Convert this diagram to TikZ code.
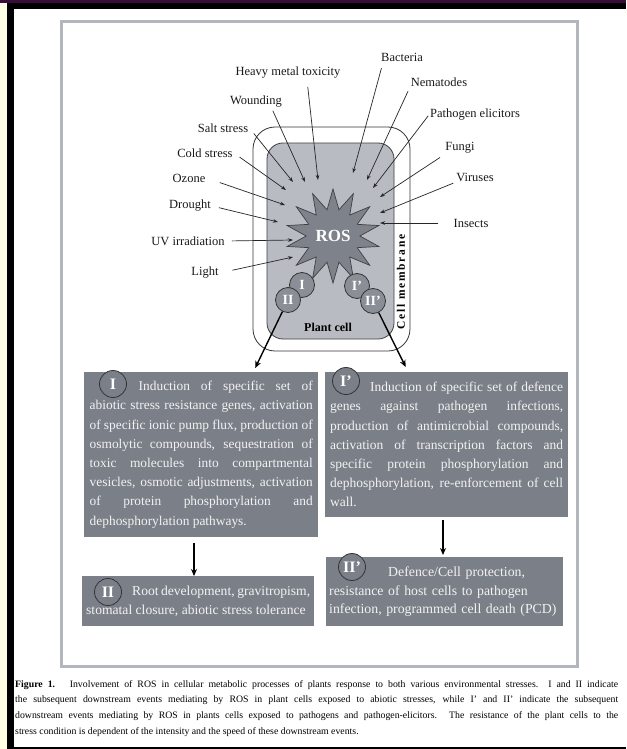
\documentclass[tikz,border=0pt]{standalone}
\usepackage{fontspec}
\setmainfont{Liberation Serif}
\usetikzlibrary{arrows.meta, shapes.geometric}

\definecolor{boxgrey}{HTML}{7B8088}
\definecolor{cellgrey}{HTML}{B8BBC2}
\definecolor{rosgrey}{HTML}{7E828A}
\definecolor{numgrey}{HTML}{8A8E96}
\definecolor{panelgrey}{HTML}{B3B6BC}
\definecolor{framepurple}{HTML}{3A0C3A}
\definecolor{frameyellow}{HTML}{FFFDE4}
\definecolor{boxtext}{HTML}{F2F2F2}

\hyphenpenalty=10000
\exhyphenpenalty=10000

\tikzset{
  stresslbl/.style={inner sep=1pt, font=\fontsize{12.5}{14}\selectfont, text=black!90},
  stressarrow/.style={-{Stealth[length=5pt,width=3.6pt]}, draw=black!85, line width=0.7pt},
  flowarrow/.style={-{Stealth[length=7pt,width=6pt]}, line width=1.4pt, black},
  textbox/.style={fill=boxgrey, text=boxtext, inner xsep=5pt, inner ysep=0pt, anchor=north west, align=justify},
  numcirc/.style={circle, draw=black!80, line width=0.8pt, fill=numgrey, text=white, inner sep=0pt, minimum size=25pt, font=\bfseries\fontsize{14}{14}\selectfont},
  labcirc/.style={numcirc, fill=boxgrey, minimum size=27pt, font=\bfseries\fontsize{16}{16}\selectfont},
}

\begin{document}
\begin{tikzpicture}[x=1pt, y=-1pt, >=Stealth]
    \useasboundingbox (0,0) rectangle (626,749);

    % 外框
    \fill[white] (0,0) rectangle (626,749);
    \fill[frameyellow] (0,0) rectangle (7,749);
    \fill[framepurple] (0,0) rectangle (626,3.5);
    \fill[black] (7,3.5) rectangle (626,9);
    \fill[black] (7,3.5) rectangle (13.5,749);
    \fill[black] (7,746.5) rectangle (626,749);
    \draw[panelgrey, line width=3pt] (61.5,21.5) rectangle (577.5,666.5);

    % 细胞膜与细胞
    \draw[black!80, line width=0.8pt, fill=white, rounded corners=22pt] (253,127) rectangle (410,351);
    \draw[black!75, line width=0.8pt, fill=cellgrey, rounded corners=16pt] (267,143) rectangle (394,339);

    % ROS
    \node[star, star points=14, star point ratio=1.75, minimum size=94pt, fill=rosgrey, draw=black!75,
          line width=0.7pt, text=white, inner sep=0pt, font=\bfseries\fontsize{17}{17}\selectfont] (ROS) at (333,236) {ROS};

    % 胁迫因子
    \node[stresslbl] (Heavy) at (288,73) {Heavy metal toxicity};
    \node[stresslbl] (Wound) at (256,102) {Wounding};
    \node[stresslbl] (Salt) at (223,128) {Salt stress};
    \node[stresslbl] (Cold) at (205,153) {Cold stress};
    \node[stresslbl] (Ozone) at (189,178) {Ozone};
    \node[stresslbl] (Drought) at (190,206) {Drought};
    \node[stresslbl] (UV) at (188,241) {UV irradiation};
    \node[stresslbl] (Light) at (205,273) {Light};
    \node[stresslbl] (Bacteria) at (402,57) {Bacteria};
    \node[stresslbl] (Nematodes) at (439,82) {Nematodes};
    \node[stresslbl] (Elicitors) at (475,115) {Pathogen elicitors};
    \node[stresslbl] (Fungi) at (460,148) {Fungi};
    \node[stresslbl] (Viruses) at (475,177) {Viruses};
    \node[stresslbl] (Insects) at (471,223) {Insects};

    % 箭头终点
    \coordinate (HeavyTip) at (318,180);
    \coordinate (WoundTip) at (305,182);
    \coordinate (SaltTip) at (293,182);
    \coordinate (ColdTip) at (286,190);
    \coordinate (OzoneTip) at (285,205);
    \coordinate (DroughtTip) at (278,222);
    \coordinate (UVTip) at (293,240);
    \coordinate (LightTip) at (293,257);
    \coordinate (BacteriaTip) at (353,173);
    \coordinate (NematodesTip) at (367,180);
    \coordinate (ElicitorsTip) at (373,188);
    \coordinate (FungiTip) at (380,197);
    \coordinate (VirusesTip) at (380,213);
    \coordinate (InsectsTip) at (380,223);

    % 胁迫箭头
    \draw[stressarrow, shorten <=7pt] ([xshift=19pt]Heavy.south) -- (HeavyTip);
    \draw[stressarrow, shorten <=2pt] ([xshift=16pt]Wound.south) -- (WoundTip);
    \draw[stressarrow, shorten <=7pt] (Salt.east) -- (SaltTip);
    \draw[stressarrow, shorten <=7pt] (Cold.east) -- (ColdTip);
    \draw[stressarrow, shorten <=14pt] (Ozone.east) -- (OzoneTip);
    \draw[stressarrow, shorten <=7pt] (Drought.east) -- (DroughtTip);
    \draw[stressarrow, shorten <=6pt] (UV.east) -- (UVTip);
    \draw[stressarrow, shorten <=13pt] (Light.east) -- (LightTip);
    \draw[stressarrow, shorten <=6pt] ([xshift=-19pt]Bacteria.south) -- (BacteriaTip);
    \draw[stressarrow, shorten <=4pt] (Nematodes.south west) -- (NematodesTip);
    \draw[stressarrow, shorten <=1pt] (Elicitors.west) -- (ElicitorsTip);
    \draw[stressarrow, shorten <=5pt] (Fungi.south west) -- (FungiTip);
    \draw[stressarrow, shorten <=2pt] (Viruses.south west) -- (VirusesTip);
    \draw[stressarrow, shorten <=14pt] (Insects.west) -- (InsectsTip);

    % 细胞内标记
    \node[numcirc] (CellI) at (302,285) {I};
    \node[numcirc] (CellII) at (288,300) {II};
    \node[numcirc] (CellIp) at (357,286) {I’};
    \node[numcirc] (CellIIp) at (373,301) {II’};
    \node[font=\bfseries\fontsize{12}{12}\selectfont] (PlantCell) at (328,327) {Plant cell};
    \node[rotate=90, font=\bfseries\fontsize{11.5}{12}\selectfont\addfontfeature{LetterSpace=15}] (Membrane) at (401,282) {Cell membrane};

    % 下游事件框
    \node[textbox, inner xsep=5.5pt, text width=223pt, minimum height=165pt, font=\fontsize{13.4}{19.2}\selectfont] (BoxI) at (84,372)
      {\hspace*{49pt}Induction of specific set of\linebreak
       abiotic stress resistance genes, activation\linebreak
       of specific ionic pump flux, production of\linebreak
       osmolytic compounds, sequestration of\linebreak
       toxic molecules into compartmental\linebreak
       vesicles, osmotic adjustments, activation\linebreak
       of protein phosphorylation and\linebreak
       dephosphorylation pathways.};
    \node[textbox, text width=233pt, minimum height=145pt, font=\fontsize{13.5}{19.2}\selectfont] (BoxIp) at (325,372)
      {\hspace*{40pt}Induction of specific set of defence\linebreak
       genes against pathogen infections,\linebreak
       production of antimicrobial compounds,\linebreak
       activation of transcription factors and\linebreak
       specific protein phosphorylation and\linebreak
       dephosphorylation, re-enforcement of cell\linebreak
       wall.};
    \node[textbox, inner xsep=4pt, text width=224pt, minimum height=50pt, font=\fontsize{13.6}{19}\selectfont] (BoxII) at (82,576)
      {\hspace*{46pt}Root development, gravitropism,\linebreak
       stomatal closure, abiotic stress tolerance};
    \node[textbox, inner xsep=3pt, text width=231pt, minimum height=69pt, align=left, font=\fontsize{13.8}{18.5}\selectfont] (BoxIIp) at (326,557)
      {\hspace*{59pt}Defence/Cell protection,\\
       resistance of host cells to pathogen\\
       infection, programmed cell death (PCD)};

    % 框内编号
    \node[labcirc] (LabI) at (113,384) {I};
    \node[labcirc] (LabIp) at (346,381) {I’};
    \node[labcirc] (LabII) at (108,592) {II};
    \node[labcirc] (LabIIp) at (352,567) {II’};

    % 流程箭头
    \coordinate (DownL) at (194,0);
    \coordinate (DownR) at (443,0);
    \draw[flowarrow] (CellII) -- ([shift={(54,-4)}]BoxI.north);
    \draw[flowarrow] (CellIIp) -- ([shift={(-41,-5)}]BoxIp.north);
    \draw[flowarrow, shorten <=6pt] (BoxI.south -| DownL) -- (BoxII.north -| DownL);
    \draw[flowarrow, shorten <=3pt, shorten >=2pt] (BoxIp.south -| DownR) -- (BoxIIp.north -| DownR);

    % 图注
    \node[anchor=north west, inner sep=0pt, text width=603pt, align=justify, font=\fontsize{9.8}{15.7}\selectfont] (Caption) at (15,680)
      {\textbf{Figure 1.}\hspace{1.5em}Involvement of ROS in cellular metabolic processes of plants response to both various environmental stresses.\ \ I and II indicate\linebreak
       the subsequent downstream events mediating by ROS in plant cells exposed to abiotic stresses, while I' and II' indicate the subsequent\linebreak
       downstream events mediating by ROS in plants cells exposed to pathogens and pathogen-elicitors. The resistance of the plant cells to the\linebreak
       stress condition is dependent of the intensity and the speed of these downstream events.};
\end{tikzpicture}
\end{document}
